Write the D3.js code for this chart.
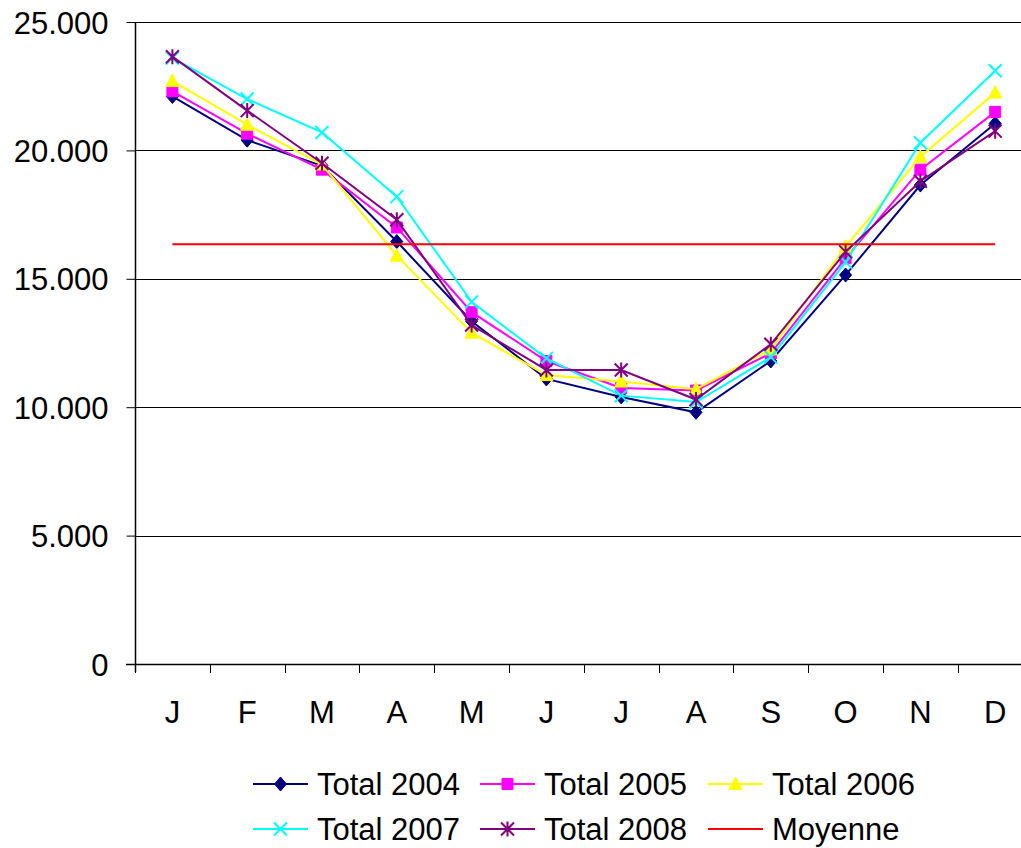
<!DOCTYPE html>
<html>
<head>
<meta charset="utf-8">
<script src="https://cdn.jsdelivr.net/npm/d3@7"></script>
<style>
  html, body { margin: 0; padding: 0; background: #fff; }
  svg { display: block; }
  text { font-family: "Liberation Sans", Arial, sans-serif; fill: #000; }
</style>
</head>
<body>
<svg id="chart" width="1021" height="848"></svg>
<script>
// Monthly totals per year, with the overall average line
const months = ["J", "F", "M", "A", "M", "J", "J", "A", "S", "O", "N", "D"];
const yTicks = [0, 5000, 10000, 15000, 20000, 25000];

const total2004 = [22100, 20400, 19400, 16450, 13350, 11100, 10400, 9800, 11800, 15150, 18650, 21050];
const total2005 = [22300, 20650, 19250, 17000, 13700, 11800, 10750, 10650, 12100, 15800, 19250, 21500];
const total2006 = [22700, 21000, 19450, 15900, 12900, 11250, 11000, 10700, 12250, 16250, 19750, 22250];
const total2007 = [23600, 22000, 20700, 18200, 14100, 11900, 10450, 10200, 11950, 15650, 20300, 23100];
const total2008 = [23650, 21550, 19500, 17300, 13200, 11450, 11450, 10300, 12450, 16050, 18800, 20750];
const moyenne   = [16350, 16350, 16350, 16350, 16350, 16350, 16350, 16350, 16350, 16350, 16350, 16350];

const series = [
  { name: "Total 2004", values: total2004, color: "#000080", marker: "diamond" },
  { name: "Total 2005", values: total2005, color: "#FF00FF", marker: "square" },
  { name: "Total 2006", values: total2006, color: "#FFFF00", marker: "triangle" },
  { name: "Total 2007", values: total2007, color: "#00FFFF", marker: "cross" },
  { name: "Total 2008", values: total2008, color: "#800080", marker: "star" },
  { name: "Moyenne",    values: moyenne,   color: "#FF0000", marker: null }
];

const svg = d3.select("#chart");
const fontSize = 31;

// Plot area
const plotLeft = 135, plotTop = 22, plotBottom = 664;
const bandW = 74.8;
const x = d3.scaleBand()
  .domain(d3.range(months.length))
  .range([plotLeft, plotLeft + bandW * months.length])
  .paddingInner(0).paddingOuter(0);
const y = d3.scaleLinear().domain([0, 25000]).range([plotBottom, plotTop]);

// Horizontal gridlines
svg.append("g")
  .selectAll("line")
  .data(yTicks.filter(d => d > 0))
  .join("line")
  .attr("x1", plotLeft).attr("x2", 1021)
  .attr("y1", d => Math.round(y(d)) + 0.5).attr("y2", d => Math.round(y(d)) + 0.5)
  .attr("stroke", "#000").attr("stroke-width", 1);

// Y axis
const fmt = d => d === 0 ? "0" : d3.format(",")(d).replace(/,/g, ".");
const yAxis = svg.append("g")
  .attr("transform", `translate(${plotLeft + 0.5},0)`)
  .call(d3.axisLeft(y).tickValues(yTicks).tickSize(9).tickPadding(18).tickFormat(fmt));
yAxis.select(".domain").attr("stroke", "#000").attr("stroke-width", 1.5)
  .attr("d", `M0,${plotTop}V${plotBottom + 8}`);
yAxis.selectAll(".tick line").attr("stroke", "#000");
yAxis.selectAll(".tick text")
  .attr("font-size", fontSize)
  .attr("font-family", "Liberation Sans, Arial, sans-serif")
  .attr("fill", "#000")
  .attr("dy", "0.36em");

// X axis: ticks at band boundaries, labels at band centres
const xAxis = svg.append("g");
xAxis.append("line")
  .attr("x1", plotLeft - 9).attr("x2", 1021)
  .attr("y1", plotBottom + 0.5).attr("y2", plotBottom + 0.5)
  .attr("stroke", "#000").attr("stroke-width", 1.5);
xAxis.selectAll("line.tk")
  .data(d3.range(months.length + 1))
  .join("line").attr("class", "tk")
  .attr("x1", i => Math.round(plotLeft + i * bandW) + 0.5)
  .attr("x2", i => Math.round(plotLeft + i * bandW) + 0.5)
  .attr("y1", plotBottom).attr("y2", plotBottom + 9)
  .attr("stroke", "#000");
xAxis.selectAll("text")
  .data(months)
  .join("text")
  .attr("x", (d, i) => x(i) + x.bandwidth() / 2)
  .attr("y", 712)
  .attr("dy", "0.36em")
  .attr("text-anchor", "middle")
  .attr("font-size", fontSize)
  .text(d => d);

// Marker shapes
function markerPath(type) {
  switch (type) {
    case "diamond": return "M0,-7L6,0L0,7L-6,0Z";
    case "square": return "M-5.5,-5.5H5.5V5.5H-5.5Z";
    case "triangle": return "M0,-7L6.5,5.5H-6.5Z";
    case "cross": return "M-6.5,-6.5L6.5,6.5M-6.5,6.5L6.5,-6.5";
    case "star": return "M-6.5,-6.5L6.5,6.5M-6.5,6.5L6.5,-6.5M0,-7.5V7.5";
  }
  return "";
}
function drawMarker(g, type, color) {
  const filled = type === "diamond" || type === "square" || type === "triangle";
  g.append("path")
    .attr("d", markerPath(type))
    .attr("fill", filled ? color : "none")
    .attr("stroke", color)
    .attr("stroke-width", filled ? 1 : 2);
}

// Series lines and markers
const line = d3.line()
  .x((d, i) => x(i) + x.bandwidth() / 2)
  .y(d => y(d));

series.forEach(s => {
  const g = svg.append("g");
  g.append("path")
    .datum(s.values)
    .attr("d", line)
    .attr("fill", "none")
    .attr("stroke", s.color)
    .attr("stroke-width", 2);
  if (s.marker) {
    s.values.forEach((v, i) => {
      const mg = g.append("g")
        .attr("transform", `translate(${x(i) + x.bandwidth() / 2},${y(v)})`);
      drawMarker(mg, s.marker, s.color);
    });
  }
});

// Legend (two rows of three entries)
const legendCols = [253, 480, 708];
const legendRows = [784, 829];
series.forEach((s, k) => {
  const lx = legendCols[k % 3], ly = legendRows[Math.floor(k / 3)];
  const g = svg.append("g").attr("transform", `translate(${lx},${ly})`);
  g.append("line").attr("x1", 0).attr("x2", 55).attr("y1", 0).attr("y2", 0)
    .attr("stroke", s.color).attr("stroke-width", 2);
  if (s.marker) {
    const mg = g.append("g").attr("transform", "translate(27.5,0)");
    drawMarker(mg, s.marker, s.color);
  }
  g.append("text").attr("x", 64).attr("y", 0).attr("dy", "0.34em")
    .attr("font-size", fontSize).text(s.name);
});
</script>
</body>
</html>
